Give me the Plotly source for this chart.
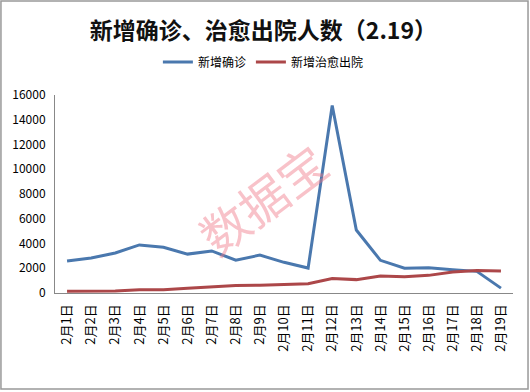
import plotly.graph_objects as go

dates = ["2月1日", "2月2日", "2月3日", "2月4日", "2月5日", "2月6日", "2月7日", "2月8日", "2月9日",
         "2月10日", "2月11日", "2月12日", "2月13日", "2月14日", "2月15日", "2月16日", "2月17日",
         "2月18日", "2月19日"]
new_confirmed = [2590, 2829, 3235, 3887, 3694, 3143, 3399, 2656, 3062, 2478, 2015, 15152, 5090,
                 2641, 2009, 2048, 1886, 1749, 394]
new_cured = [147, 157, 157, 262, 261, 387, 510, 600, 632, 716, 744, 1171, 1081, 1373, 1323,
             1425, 1701, 1824, 1779]
y_ticks = [0, 2000, 4000, 6000, 8000, 10000, 12000, 14000, 16000]

FONT = "Noto Sans CJK SC"

fig = go.Figure()
fig.add_trace(go.Scatter(x=dates, y=new_confirmed, mode="lines", name="新增确诊",
                         line=dict(color="#4A78AE", width=3)))
fig.add_trace(go.Scatter(x=dates, y=new_cured, mode="lines", name="新增治愈出院",
                         line=dict(color="#AC4749", width=3)))

fig.update_layout(
    width=530, height=392,
    margin=dict(l=55, r=17, t=95, b=99, autoexpand=False),
    paper_bgcolor="white", plot_bgcolor="white",
    font=dict(family=FONT, color="#000000", size=12),
    title=dict(text="<b>新增确诊、治愈出院人数（2.19）</b>", x=0.497, xanchor="center",
               y=0.922, yanchor="middle", font=dict(size=23, family=FONT, color="#111111")),
    legend=dict(orientation="h", x=0.455, xanchor="center", y=1.167, yanchor="middle",
                font=dict(size=12, family=FONT), itemwidth=30, bgcolor="rgba(0,0,0,0)"),
    showlegend=True,
)
fig.update_xaxes(type="category", tickangle=-90, showline=True, linecolor="#888888",
                 linewidth=1, showgrid=False, ticks="", tickfont=dict(size=13, family=FONT),
                 range=[-0.5, len(dates) - 0.5], automargin=False, ticklabelstandoff=5)
fig.update_yaxes(range=[0, 16000], tickvals=y_ticks, ticktext=[str(v) for v in y_ticks],
                 showline=True, linecolor="#888888",
                 linewidth=1, showgrid=False, zeroline=False, ticks="",
                 tickfont=dict(size=12, family=FONT), automargin=False, ticklabelstandoff=6)

fig.add_annotation(text="数据宝", xref="paper", yref="paper", x=0.452, y=0.48,
                   showarrow=False, textangle=-37,
                   font=dict(size=48, family=FONT, color="rgba(240,120,135,0.45)"))

fig.add_shape(type="rect", xref="paper", yref="paper", x0=-0.118, x1=1.0328,
              y0=-0.4848, y1=1.4747, line=dict(color="#999999", width=1.5), layer="below")

fig.write_html("out.html", config={"displayModeBar": False},
               post_script="document.body.style.margin='0';document.body.style.padding='0';")
